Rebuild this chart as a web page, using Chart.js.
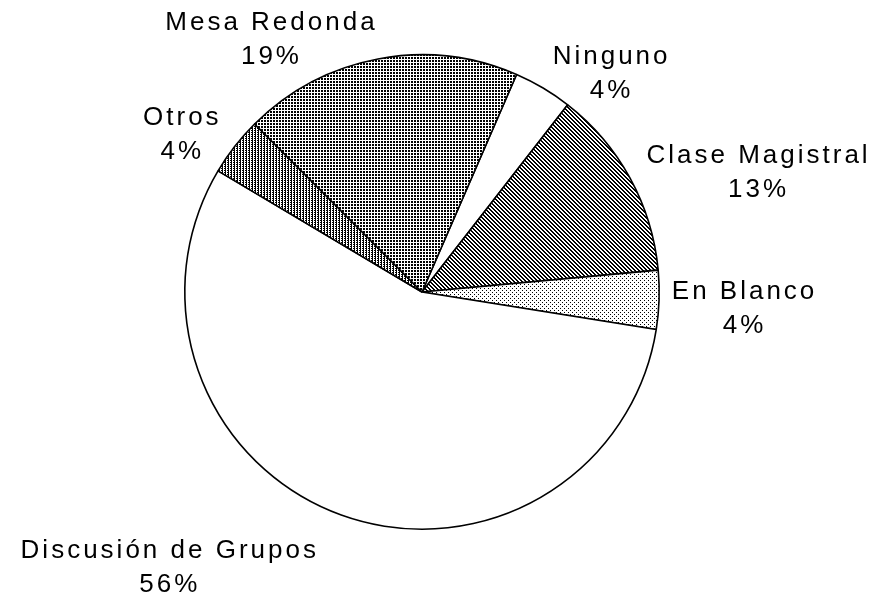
<!DOCTYPE html>
<html>
<head>
<meta charset="utf-8">
<script src="https://cdn.jsdelivr.net/npm/chart.js@4.4.1/dist/chart.umd.min.js"></script>
<style>
  html, body { margin: 0; padding: 0; background: #ffffff; }
  #wrap { width: 878px; height: 600px; position: relative; }
</style>
</head>
<body>
<div id="wrap"><canvas id="c" width="878" height="600"></canvas></div>
<script>
// ---- data (clockwise from the Mesa Redonda / Ninguno boundary) ----
const categories = ["Ninguno", "Clase Magistral", "En Blanco", "Discusión de Grupos", "Otros", "Mesa Redonda"];
const percentages = [4, 13, 4, 56, 4, 19];

// ---- hatch patterns ----
function makePattern(w, h, draw) {
  const c = document.createElement('canvas');
  c.width = w; c.height = h;
  const g = c.getContext('2d');
  g.fillStyle = '#ffffff';
  g.fillRect(0, 0, w, h);
  g.fillStyle = '#000000';
  draw(g);
  return g.createPattern(c, 'repeat');
}
const patWhite = '#ffffff';
const patDiag = makePattern(4, 4, g => { for (let i = 0; i < 4; i++) { g.fillRect(i, i, 1, 1); g.fillRect((i + 1) % 4, i, 1, 1); } });
const patStipple = makePattern(4, 4, g => { g.fillRect(0, 0, 1, 1); g.fillRect(2, 2, 1, 1); });
const patVert = makePattern(3, 2, g => { g.fillRect(0, 0, 1, 2); g.fillRect(2, 0, 1, 1); });
const patDots = makePattern(3, 3, g => { g.fillRect(0, 0, 2, 2); });
const fills = [patWhite, patDiag, patStipple, patWhite, patVert, patDots];

// label anchor offsets from each slice's outer edge at its mid-angle (first line centre)
const labelOffsets = [[67, -31], [127, -22], [84, -8], [-173, 36], [-54, -28], [-108, -36]];

const labelPlugin = {
  id: 'sliceLabels',
  afterDatasetsDraw(chart) {
    const ctx = chart.ctx;
    const meta = chart.getDatasetMeta(0);
    ctx.save();
    ctx.font = '26px "Liberation Sans", Arial, sans-serif';
    ctx.fillStyle = '#000000';
    ctx.textAlign = 'center';
    ctx.textBaseline = 'middle';
    try { ctx.letterSpacing = '3px'; } catch (e) {}
    meta.data.forEach((arc, i) => {
      const p = arc.getProps(['x', 'y', 'startAngle', 'endAngle', 'outerRadius'], true);
      const mid = (p.startAngle + p.endAngle) / 2;
      const ex = p.x + Math.cos(mid) * p.outerRadius;
      const ey = p.y + Math.sin(mid) * p.outerRadius;
      const lx = ex + labelOffsets[i][0] + 1.5;
      const ly = ey + labelOffsets[i][1];
      ctx.fillText(categories[i], lx, ly);
      ctx.fillText(percentages[i] + '%', lx, ly + 34);
    });
    ctx.restore();
  }
};

new Chart(document.getElementById('c'), {
  type: 'pie',
  data: {
    labels: categories,
    datasets: [{
      data: percentages,
      backgroundColor: fills,
      borderColor: '#000000',
      borderWidth: 1.6
    }]
  },
  options: {
    responsive: false,
    animation: false,
    rotation: 23.5,
    layout: { padding: { top: 54, bottom: 70, left: 184, right: 218 } },
    plugins: {
      legend: { display: false },
      tooltip: { enabled: false },
      title: { display: false }
    }
  },
  plugins: [labelPlugin]
});
</script>
</body>
</html>
